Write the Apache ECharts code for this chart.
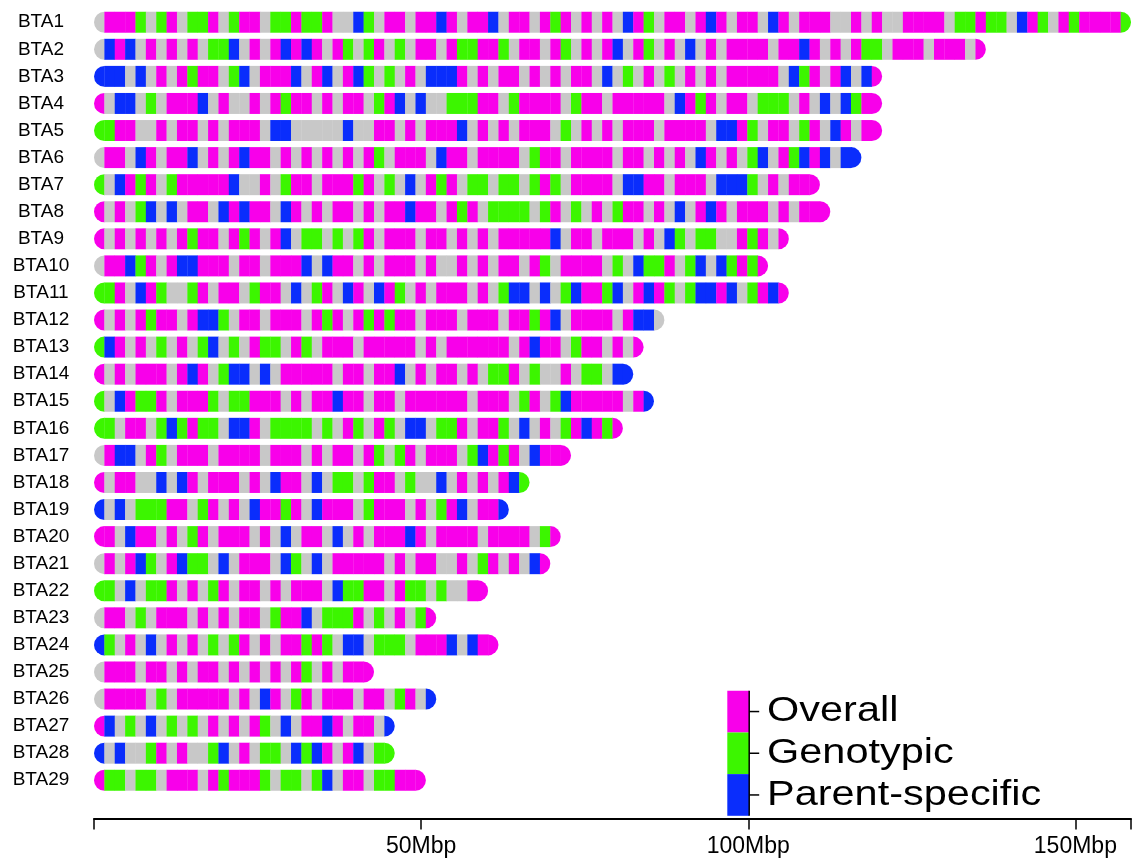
<!DOCTYPE html>
<html>
<head>
<meta charset="utf-8">
<script src="https://cdn.jsdelivr.net/npm/echarts@6/dist/echarts.min.js"></script>
<style>
  html, body { margin: 0; padding: 0; background: #ffffff; }
  #chart { width: 1134px; height: 859px; }
</style>
</head>
<body>
<div id="chart"></div>
<script>
// Chromosome names, top to bottom
const chromosomes = ['BTA1','BTA2','BTA3','BTA4','BTA5','BTA6','BTA7','BTA8','BTA9','BTA10',
  'BTA11','BTA12','BTA13','BTA14','BTA15','BTA16','BTA17','BTA18','BTA19','BTA20',
  'BTA21','BTA22','BTA23','BTA24','BTA25','BTA26','BTA27','BTA28','BTA29'];

// Width of one genomic bin along each chromosome (Mbp)
const BIN_MBP = 1.585;

// One character per bin, from the start of the chromosome:
// O = overall, G = genotypic, P = parent-specific, - = no signal
const bta1  = "-OOOG-GO-G GO-GOO-GGO GGO--PG-OO -OOPO-OOP- OO-OGO-O-O -POG-OO-OP O-OO-PO-OO O--O-O--OO OO-GGOGG-P OG-OGOOOOG";
const bta2  = "-POP-O-O-O -GGP-O-OPO PO-OG-GO-G -OO-OGGOOG -OO-OG-O-O P-OG-O-P-O -OOOO-OOPO -O-OGG-OOO -OOO-O";
const bta3  = "PPP-P-O-OG OO-GP-OOOP -OP-OPG-G- O-PPPO-O-O O-O-O-OO-P -G-O-G-O-O -OOOOO-PGO -OP-PO";
const bta4  = "O-PP-G-OOO P-O--O-OGO O-O-OO-GOP -P--GGGOO- GOOOO-GOO- OOOOO-POGO -OO-GGG-O- P-PGOO";
const bta5  = "GGOO--O-OO -O-OOO-PP- ----P--OO- O-OOOP-O-O -OOO-G-O-O -OOO-OOOO- PPOG-OO-GO -PO-OO";
const bta6  = "-OO-PO-OOP -O-OPOO-O- O-O-O-OG-O OO-POO-OOO O-GOO-OOOO -OO-O-O-PO -O-GP-OGPO P-PP";
const bta7  = "G-POGO-GOO OOOP--O-GO O-OOOGO-G- P-OGO-GG-G G-GOG-OOOO -PPOO-OOO- PPPG-O-OOO";
const bta8  = "O-O-GP-P-O O-POPOO-PO -O-OO-O-OO POO-OGO-GG GG-GO-G-O- GOO-O-P-OP O-OOO-O-OOO";
const bta9  = "O-O-O-O-OG OO-OGO-OP- GG-G-GO-OO O-OO-O-O-O OOOOP-OO-O OO-O-PG-GG --OGO-O";
const bta10 = "-OOPGO-OPP OOO-OO-OOO P-POO-O-OO O-O--O-O-O O-OG-OOOO- G-PGGO-GP- PGOGO";
const bta11 = "GGO-POG--G O-OO-GOO-P -GO-PO-POG -O-OOO-O-G PP-P-GPOOG P-OPOG-GPP OP-GOPO";
const bta12 = "O-O-OGOO-O PPG-OO-OOO -OGO-OGOGO O-OOO-OOO- OOGOP-OOOO -OPP-";
const bta13 = "GPO-O-G-O- GP-G-OGG-O G-OOO-OOOO O-O-OOOOOO -OPOO-GOO- O-O";
const bta14 = "O-O-OOO-OP O-GPP-P-OO OOO-OO-OOP -O-OO-O-GG O-G--O-GG- PP";
const bta15 = "G-POGGO-OO OG-GGOOO-O -OOPOO-OO- OOOOOO-OOO -GO-GPOOOO O-OP";
const bta16 = "GG-OO-GPGO GG-PPO-GGG G-G-OG-OG- PP-GGO-OOG -P-O-GOPOG O";
const bta17 = "-OPP-OG-OO O-OOOO-OOO -O-OO-OG-G O-OOO-GPOG O-POOO";
const bta18 = "O-OO--P-PO -OOO-O-POO -P-GG-GOO- G--P-O-O-O PG";
const bta19 = "P-P-GGGOO- GO-O-POOGO -POOO-GOOO -O-GOP-OOP";
const bta20 = "OO-POO-O-G O-OOO-O-P- OO-P-O-OOO PO-OOOO-OO OO-GO";
const bta21 = "-O-OPG-OPG G-P-OOO-PG -P-OOOOO-O -OO--O-GO- O-PO";
const bta22 = "GG-P-GGO-O -GO-OO-O-O OO-PGGOO-O GG-G--OO";
const bta23 = "-OO-G-OOO- O-O-OO-GOO P-GGGO-G-O -GO";
const bta24 = "PG-O-P-O-O -G-GO-O-OO GOG-PP-GGG -OOOP-POO";
const bta25 = "-OOO-OO-O- OO-O-O-O-O G-O-OOO";
const bta26 = "-OOOO-G-OO OOO-O-PO-G O-OOO-OO-G O-P";
const bta27 = "OP-G-P-G-G -O-O-OG-P- OOPO-OO-P";
const bta28 = "P-P--GO-O- -GP-O-GG-P GPO-OP-GG";
const bta29 = "OGG-GG-OOO -OGOOOG-GG -GP-OO-GGO OO";

const binStrings = [bta1, bta2, bta3, bta4, bta5, bta6, bta7, bta8, bta9, bta10,
  bta11, bta12, bta13, bta14, bta15, bta16, bta17, bta18, bta19, bta20,
  bta21, bta22, bta23, bta24, bta25, bta26, bta27, bta28, bta29];

// Legend entries and x-axis labelled ticks
const legendLabels = ['Overall', 'Genotypic', 'Parent-specific'];
const axisLabelledTicks = [50, 100, 150];
const AXIS_MAX = 158.5;

const codeIndex = { '-': 0, 'O': 1, 'G': 2, 'P': 3 };
const palette = ['#c8c8c8', '#f800ea', '#3cf600', '#0a2dfc'];

// Flatten the bin strings into [start, end, chromosome, class, endFlag]
const bins = [];
binStrings.forEach((raw, ci) => {
  const s = raw.replace(/\s+/g, '');
  for (let i = 0; i < s.length; i++) {
    const flag = i === 0 ? 1 : (i === s.length - 1 ? 2 : 0);
    bins.push([i * BIN_MBP, (i + 1) * BIN_MBP, ci, codeIndex[s[i]], flag]);
  }
});

function renderBin(params, api) {
  const a = api.coord([api.value(0), api.value(2)]);
  const b = api.coord([api.value(1), api.value(2)]);
  const h = api.size([0, 1])[1] * 0.775;
  const flag = api.value(4);
  // interior bins overlap their right neighbour a little to soften seams
  const w = b[0] - a[0] + (flag === 2 ? 0 : 0.3);
  let r = 0;
  if (flag === 1) r = [h / 2, 0, 0, h / 2];
  else if (flag === 2) r = [0, h / 2, h / 2, 0];
  return {
    type: 'rect',
    shape: { x: a[0], y: a[1] - h / 2, width: w, height: h, r: r },
    style: { fill: palette[api.value(3)] }
  };
}

const FONT = '"Liberation Sans", Arial, Helvetica, sans-serif';

// Legend: stacked colour key with a bracket line and ticks
const keyX = 727.3, keyW = 21.9, keyTop = 690.7, keyH = 41.7;
const legendGraphics = [];
legendLabels.forEach((label, i) => {
  const y0 = keyTop + i * keyH;
  legendGraphics.push({
    type: 'rect', silent: true,
    shape: { x: keyX, y: y0, width: keyW, height: keyH },
    style: { fill: palette[i + 1] }
  });
  legendGraphics.push({
    type: 'line', silent: true,
    shape: { x1: keyX + keyW, y1: y0 + keyH / 2, x2: keyX + keyW + 10, y2: y0 + keyH / 2 },
    style: { stroke: '#000', lineWidth: 1.5 }
  });
  legendGraphics.push({
    type: 'text', silent: true,
    x: 767, y: y0 + keyH / 2, scaleX: 1.185, originX: 0, originY: 0,
    style: { text: label, x: 0, y: 0, fill: '#000', font: '35px ' + FONT, verticalAlign: 'middle', align: 'left' }
  });
});
legendGraphics.push({
  type: 'line', silent: true,
  shape: { x1: keyX + keyW, y1: keyTop, x2: keyX + keyW, y2: keyTop + 3 * keyH },
  style: { stroke: '#000', lineWidth: 1.5 }
});

const chart = echarts.init(document.getElementById('chart'), null, { renderer: 'canvas' });
chart.setOption({
  animation: false,
  backgroundColor: '#ffffff',
  grid: { left: 94, top: 8.7, width: 1038.5, height: 785.1, containLabel: false },
  xAxis: {
    type: 'value', min: 0, max: AXIS_MAX, interval: 50,
    position: 'bottom', offset: 24.6,
    axisLine: { show: true, lineStyle: { color: '#000', width: 1.8 } },
    axisTick: { show: true, length: 11, lineStyle: { color: '#000', width: 1.5 } },
    splitLine: { show: false },
    axisLabel: {
      margin: 17, fontSize: 23, color: '#000', fontFamily: FONT,
      formatter: v => axisLabelledTicks.includes(v) ? v + 'Mbp' : ''
    }
  },
  yAxis: {
    type: 'category', data: chromosomes, inverse: true,
    axisLine: { show: false }, axisTick: { show: false }, splitLine: { show: false },
    axisLabel: { fontSize: 19, color: '#000', fontFamily: FONT, align: 'center', margin: 53 }
  },
  series: [{
    type: 'custom',
    renderItem: renderBin,
    encode: { x: [0, 1], y: 2 },
    data: bins,
    clip: false
  }],
  graphic: legendGraphics
});
</script>
</body>
</html>
